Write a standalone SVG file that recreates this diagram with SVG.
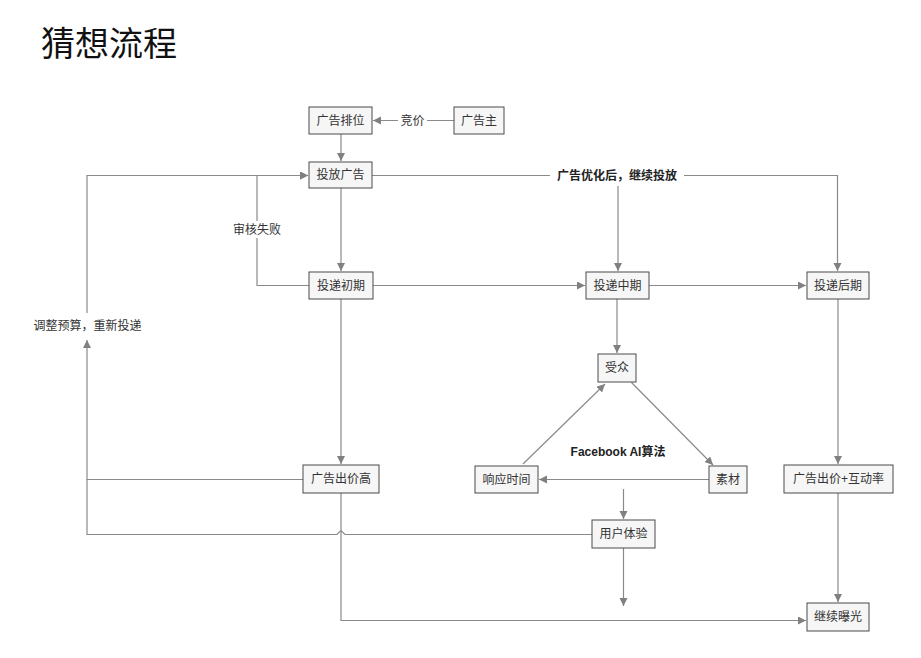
<svg xmlns="http://www.w3.org/2000/svg" width="921" height="658" viewBox="0 0 921 658">
<style>
.box{fill:#f6f6f6;stroke:#4a4a4a;stroke-width:1}
.t{font-family:"Liberation Sans","Noto Sans CJK SC",sans-serif;font-size:12px;fill:#333;text-anchor:middle;dominant-baseline:central}
.b{font-weight:bold;fill:#222}
.ln{fill:none;stroke:#8a8a8a;stroke-width:1.2}
.bg{fill:#fff}
</style>
<defs>
<marker id="ar" markerUnits="userSpaceOnUse" markerWidth="9" markerHeight="9" refX="8" refY="4" orient="auto">
<path d="M0,0 L8,4 L0,8 z" fill="#808080"/>
</marker>
</defs>
<rect width="921" height="658" fill="#fff"/>
<text x="41" y="56" style="font-family:'Noto Sans CJK SC',serif;font-size:34px;fill:#111">猜想流程</text>

<g id="connectors">
<path class="ln" d="M454,120.5 H373" marker-end="url(#ar)"/>
<path class="ln" d="M341,134 V161" marker-end="url(#ar)"/>
<path class="ln" d="M341,188 V271" marker-end="url(#ar)"/>
<path class="ln" d="M309,285.5 H257 V175.5 H308" marker-end="url(#ar)"/>
<path class="ln" d="M303,479.5 H87 V340" marker-end="url(#ar)"/>
<path class="ln" d="M592,534.5 H345 L341,530.5 L337,534.5 H87 V479.5"/>
<path class="ln" d="M87,313 V175.5 H308" marker-end="url(#ar)"/>
<path class="ln" d="M372,175.5 H837.5 V271" marker-end="url(#ar)"/>
<path class="ln" d="M618,186 V271" marker-end="url(#ar)"/>
<path class="ln" d="M373,285.5 H585" marker-end="url(#ar)"/>
<path class="ln" d="M649,285.5 H806" marker-end="url(#ar)"/>
<path class="ln" d="M617,299 V353" marker-end="url(#ar)"/>
<path class="ln" d="M631.5,382.5 L713,465" marker-end="url(#ar)"/>
<path class="ln" d="M709,479.5 H539" marker-end="url(#ar)"/>
<path class="ln" d="M523,464 L605,384" marker-end="url(#ar)"/>
<path class="ln" d="M623.5,489 V519" marker-end="url(#ar)"/>
<path class="ln" d="M623.5,548 V606" marker-end="url(#ar)"/>
<path class="ln" d="M838,299 V464" marker-end="url(#ar)"/>
<path class="ln" d="M838,493 V602" marker-end="url(#ar)"/>
<path class="ln" d="M341,299 V464" marker-end="url(#ar)"/>
<path class="ln" d="M341,493 V620.5 H806" marker-end="url(#ar)"/>
<rect class="bg" x="398" y="112" width="29" height="17"/>
<text class="t" x="412.5" y="120.5">竞价</text>
<rect class="bg" x="231" y="221" width="52" height="17"/>
<text class="t" x="257" y="229.5">审核失败</text>
<rect class="bg" x="30" y="317" width="115" height="18"/>
<text class="t" x="87.5" y="326">调整预算，重新投递</text>
<rect class="bg" x="550" y="167" width="134" height="18"/>
<text class="t b" x="617" y="176">广告优化后，继续投放</text>
<text class="t b" x="618" y="452">Facebook AI算法</text>
</g>

<g id="n1"><rect class="box" x="309" y="107" width="63" height="27"/><text class="t" x="340.5" y="120.5">广告排位</text></g>
<g id="n2"><rect class="box" x="454" y="107" width="50" height="27"/><text class="t" x="479" y="120.5">广告主</text></g>
<g id="n3"><rect class="box" x="309" y="162" width="63" height="26"/><text class="t" x="340.5" y="175">投放广告</text></g>
<g id="n4"><rect class="box" x="309" y="272" width="64" height="27"/><text class="t" x="341" y="285.5">投递初期</text></g>
<g id="n5"><rect class="box" x="586" y="272" width="63" height="27"/><text class="t" x="617.5" y="285.5">投递中期</text></g>
<g id="n6"><rect class="box" x="807" y="272" width="62" height="27"/><text class="t" x="838" y="285.5">投递后期</text></g>
<g id="n7"><rect class="box" x="598" y="354" width="38" height="28"/><text class="t" x="617" y="368">受众</text></g>
<g id="n8"><rect class="box" x="475" y="466" width="63" height="27"/><text class="t" x="506.5" y="479.5">响应时间</text></g>
<g id="n9"><rect class="box" x="709" y="466" width="38" height="27"/><text class="t" x="728" y="479.5">素材</text></g>
<g id="n10"><rect class="box" x="303" y="465" width="76" height="28"/><text class="t" x="341" y="479">广告出价高</text></g>
<g id="n11"><rect class="box" x="592" y="520" width="63" height="28"/><text class="t" x="623.5" y="534">用户体验</text></g>
<g id="n12"><rect class="box" x="784" y="465" width="109" height="28"/><text class="t" x="838.5" y="479">广告出价+互动率</text></g>
<g id="n13"><rect class="box" x="807" y="603" width="62" height="28"/><text class="t" x="838" y="617">继续曝光</text></g>
</svg>
